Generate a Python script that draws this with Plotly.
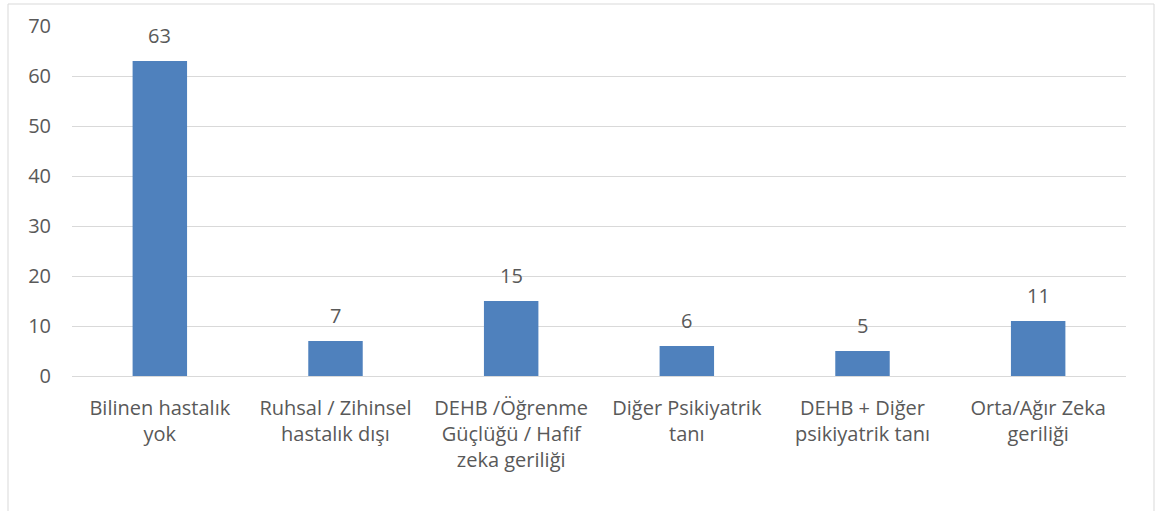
import plotly.graph_objects as go

categories = [
    "Bilinen hastalık<br>yok",
    "Ruhsal / Zihinsel<br>hastalık dışı",
    "DEHB /Öğrenme<br>Güçlüğü / Hafif<br>zeka geriliği",
    "Diğer Psikiyatrik<br>tanı",
    "DEHB + Diğer<br>psikiyatrik tanı",
    "Orta/Ağır Zeka<br>geriliği",
]
values = [63, 7, 15, 6, 5, 11]
y_ticks = [0, 10, 20, 30, 40, 50, 60, 70]

W, H = 1157, 511
L, R, T, B = 72, 31, 26, 135
pw, ph = W - L - R, H - T - B

FONT = "Open Sans"
TXT = "#595959"
GRID = "#d9d9d9"
FS = 20

fig = go.Figure(
    go.Bar(
        x=categories,
        y=values,
        marker=dict(color="#4F81BD", line=dict(width=0)),
        cliponaxis=False,
    )
)

for c, v in zip(categories, values):
    fig.add_annotation(
        x=c, y=v, xref="x", yref="y",
        text=str(v), showarrow=False,
        yanchor="bottom", yshift=10,
        font=dict(family=FONT, size=FS, color=TXT),
    )

fig.update_layout(
    width=W,
    height=H,
    margin=dict(l=L, r=R, t=T, b=B),
    paper_bgcolor="white",
    plot_bgcolor="white",
    bargap=0.69,
    showlegend=False,
    font=dict(family=FONT, size=FS, color=TXT),
    xaxis=dict(
        showgrid=False,
        showline=False,
        ticks="",
        tickfont=dict(family=FONT, size=FS, color=TXT),
        ticklabelstandoff=18,
    ),
    yaxis=dict(
        range=[0, 70],
        tickvals=y_ticks,
        showgrid=True,
        gridcolor=GRID,
        gridwidth=1,
        zeroline=True,
        zerolinecolor=GRID,
        zerolinewidth=1,
        showline=False,
        ticks="",
        tickfont=dict(family=FONT, size=FS, color=TXT),
        ticklabelstandoff=20,
    ),
    shapes=[
        dict(
            type="rect",
            xref="paper",
            yref="paper",
            x0=(8 - L) / pw,
            x1=(1154 - L) / pw,
            y0=-(520 - (T + ph)) / ph,
            y1=1 + (T - 4) / ph,
            line=dict(color=GRID, width=1),
            fillcolor="rgba(0,0,0,0)",
            layer="below",
        )
    ],
)

fig.write_html(
    "out.html",
    config={"displayModeBar": False},
    post_script="document.body.style.margin='0';",
)
